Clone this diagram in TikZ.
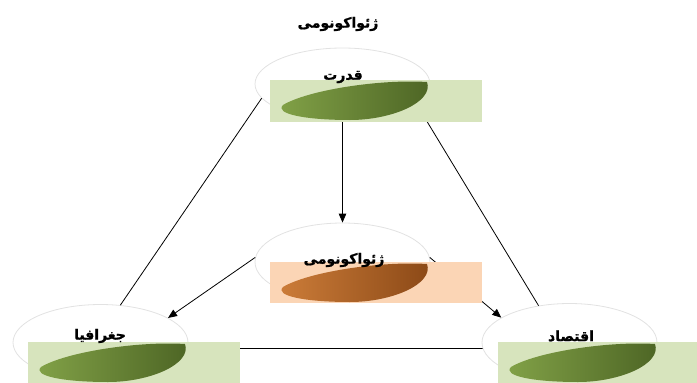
\documentclass[tikz,border=0pt]{standalone}
\usepackage{fontspec}
\usetikzlibrary{shapes.geometric,arrows.meta}
\newfontfamily\arabicfont[Script=Arabic,BoldFont={DejaVu Sans Bold},BoldFeatures={FakeBold=1.2}]{DejaVu Sans}
\TeXXeTstate=1
\definecolor{ringgray}{HTML}{E2E2E2}
\definecolor{lightgreen}{HTML}{D7E4BD}
\definecolor{greenA}{HTML}{83A348}
\definecolor{greenB}{HTML}{4C6424}
\definecolor{lightorange}{HTML}{FBD5B5}
\definecolor{brownA}{HTML}{CE7E3A}
\definecolor{brownB}{HTML}{8A4816}
\tikzset{
  ring/.style={ellipse, draw=ringgray, line width=0.8pt, fill=white, minimum width=175pt, minimum height=76pt, inner sep=0pt},
  band/.style={rectangle, minimum width=212pt, minimum height=42pt, inner sep=0pt, anchor=north west},
  lbl/.style={font=\arabicfont\bfseries\fontsize{14}{16}\selectfont, text=black, inner sep=0pt},
  link/.style={line width=0.8pt, black},
  arr/.style={link, -{Triangle[length=9pt,width=7.5pt]}}
}
\newcommand\lensshape[3]{%
  \shade[shift={(#1)}, shading angle=70, left color=#2, right color=#3]
    (13,25) .. controls (38,10) and (110,-1) .. (157,2)
    .. controls (164,22) and (122,40) .. (80,40)
    .. controls (36,40) and (4,34) .. (13,25) -- cycle;}
\begin{document}
\begin{tikzpicture}[x=1pt,y=-1pt]
\useasboundingbox (0,0) rectangle (697,383);
% outline ellipses
\node[ring, minimum height=72pt] (top) at (342.5,84) {};
\node[ring, minimum height=78pt] (mid) at (342.5,262) {};
\node[ring] (left) at (100.5,342.5) {};
\node[ring, minimum height=78pt] (right) at (569.5,342.5) {};
% connectors
\draw[link] (top.190) -- (left.62);
\draw[link] (top.-15) -- (right.130);
\draw[link] (left.-4) -- (right.184);
\draw[arr] (top.south) -- (mid.north);
\draw[arr] (mid.177) -- (left.20);
\draw[arr] (mid.3) -- (right.160);
% bands
\node[band, fill=lightgreen] (topband) at (270,80) {};
\node[band, fill=lightorange, minimum height=41pt] (midband) at (270,262) {};
\node[band, fill=lightgreen] (leftband) at (28,342) {};
\node[band, fill=lightgreen] (rightband) at (498,342) {};
% shaded lenses
\lensshape{270,80}{greenA}{greenB}
\lensshape{270,262}{brownA}{brownB}
\lensshape{28,342}{greenA}{greenB}
\lensshape{498,342}{greenA}{greenB}
% labels
\node[lbl] (title) at (338,24) {\beginR ژئواکونومی\endR};
\node[lbl] (toplbl) at (343,77) {\beginR قدرت\endR};
\node[lbl] (midlbl) at (344,260) {\beginR ژئواکونومی\endR};
\node[lbl] (leftlbl) at (100,336) {\beginR جغرافیا\endR};
\node[lbl] (rightlbl) at (571,336) {\beginR اقتصاد\endR};
\end{tikzpicture}
\end{document}
